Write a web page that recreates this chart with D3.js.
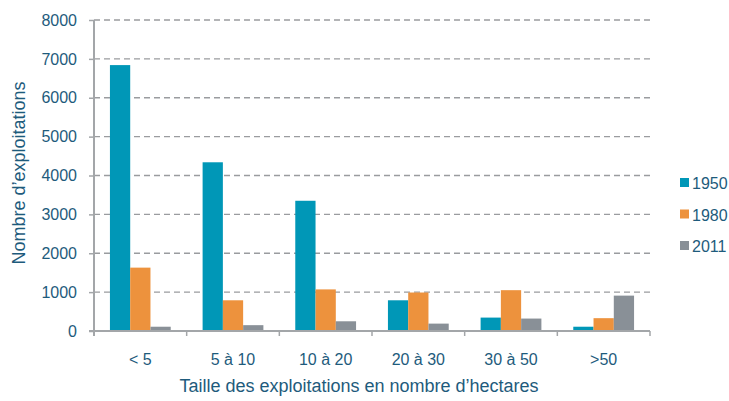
<!DOCTYPE html>
<html>
<head>
<meta charset="utf-8">
<script src="https://cdn.jsdelivr.net/npm/d3@7"></script>
<style>
  html, body { margin: 0; padding: 0; background: #fff; }
  svg { display: block; font-family: "Liberation Sans", Arial, Helvetica, sans-serif; }
</style>
</head>
<body>
<svg id="chart" width="729" height="401"></svg>
<script>
// Farm counts by size class (hectares), for three census years
const categories = ["< 5", "5 à 10", "10 à 20", "20 à 30", "30 à 50", ">50"];
const years = ["1950", "1980", "2011"];
const values1950 = [6840, 4340, 3350, 790, 345, 110];
const values1980 = [1630, 790, 1070, 990, 1050, 330];
const values2011 = [110, 150, 250, 190, 320, 910];
const yTicks = [0, 1000, 2000, 3000, 4000, 5000, 6000, 7000, 8000];
const colors = ["#0097b7", "#ed923d", "#899097"];

const seriesValues = [values1950, values1980, values2011];
const textColor = "#1e5b7c";
const axisColor = "#a3a6a9";

const svg = d3.select("#chart");
const margin = { left: 94, right: 79, top: 20, bottom: 70 };
const width = 729 - margin.left - margin.right;
const height = 401 - margin.top - margin.bottom;

const g = svg.append("g").attr("transform", `translate(${margin.left},${margin.top})`);

const x0 = d3.scaleBand().domain(categories).range([0, width]).padding(0);
const x1 = d3.scaleBand().domain(years)
  .range([x0.bandwidth() * 0.172, x0.bandwidth() * 0.828]).padding(0);
const y = d3.scaleLinear().domain([0, 8000]).range([height, 0]);

// dashed horizontal gridlines
g.append("g")
  .selectAll("line")
  .data(yTicks.filter(d => d > 0))
  .join("line")
  .attr("x1", 0).attr("x2", width)
  .attr("y1", d => y(d)).attr("y2", d => y(d))
  .attr("stroke", "#9a9c9f")
  .attr("stroke-width", 1.3)
  .attr("stroke-dasharray", "6,4");

// bars
const groups = g.append("g")
  .selectAll("g")
  .data(categories)
  .join("g")
  .attr("transform", d => `translate(${x0(d)},0)`);

groups.selectAll("rect")
  .data((c, i) => years.map((yr, k) => ({ year: yr, value: seriesValues[k][i], k })))
  .join("rect")
  .attr("x", d => x1(d.year))
  .attr("width", x1.bandwidth())
  .attr("y", d => y(d.value))
  .attr("height", d => y(0) - y(d.value))
  .attr("fill", d => colors[d.k]);

// y axis
const yAxis = g.append("g")
  .call(d3.axisLeft(y).tickValues(yTicks).tickSize(5).tickPadding(12).tickFormat(d3.format("d")));
yAxis.select(".domain").attr("stroke", axisColor).attr("stroke-width", 2).attr("d", `M0,0V${height + 5}`);
yAxis.selectAll(".tick line").attr("stroke", axisColor).attr("stroke-width", 1.5);
yAxis.selectAll(".tick text").attr("fill", textColor).style("font-size", "16px");

// x axis with ticks at category boundaries
const xAxis = g.append("g").attr("transform", `translate(0,${height})`);
xAxis.append("line")
  .attr("x1", -5).attr("x2", width)
  .attr("stroke", axisColor).attr("stroke-width", 2);
xAxis.selectAll("line.sep")
  .data(categories.slice(1).concat(["end"]))
  .join("line")
  .attr("class", "sep")
  .attr("x1", (d, i) => x0.bandwidth() * (i + 1))
  .attr("x2", (d, i) => x0.bandwidth() * (i + 1))
  .attr("y1", 0).attr("y2", 5)
  .attr("stroke", axisColor).attr("stroke-width", 1.5);
xAxis.selectAll("text")
  .data(categories)
  .join("text")
  .attr("x", d => x0(d) + x0.bandwidth() / 2)
  .attr("y", 34)
  .attr("text-anchor", "middle")
  .attr("fill", textColor)
  .style("font-size", "16px")
  .text(d => d);

// axis titles
svg.append("text")
  .attr("x", 359)
  .attr("y", 392)
  .attr("text-anchor", "middle")
  .attr("fill", textColor)
  .style("font-size", "18px")
  .text("Taille des exploitations en nombre d\u2019hectares");

svg.append("text")
  .attr("transform", "translate(25,173) rotate(-90)")
  .attr("text-anchor", "middle")
  .attr("fill", textColor)
  .style("font-size", "18px")
  .text("Nombre d\u2019exploitations");

// legend
const legend = svg.append("g").attr("transform", "translate(680,183)");
const items = legend.selectAll("g")
  .data(years)
  .join("g")
  .attr("transform", (d, i) => `translate(0,${i * 31.5})`);
items.append("rect")
  .attr("x", 0).attr("y", -5)
  .attr("width", 9).attr("height", 9)
  .attr("fill", (d, i) => colors[i]);
items.append("text")
  .attr("x", 12).attr("y", 6)
  .attr("fill", textColor)
  .style("font-size", "16px")
  .text(d => d);
</script>
</body>
</html>
